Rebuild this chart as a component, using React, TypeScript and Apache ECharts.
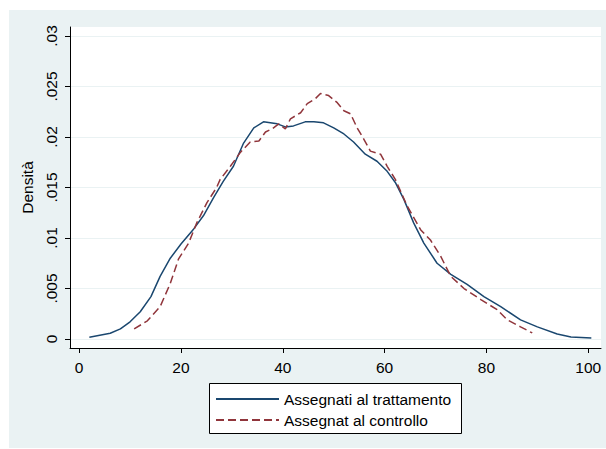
import React, { useEffect, useRef } from "react";
import * as echarts from "echarts";

const treatedX = [2.0, 6.1, 8.1, 10.0, 12.0, 14.1, 15.9, 17.9, 20.0, 22.5, 24.4, 26.4, 28.3, 30.3, 32.3, 34.3, 36.2, 38.9, 40.5, 42.1, 44.4, 46.1, 48.0, 50.0, 52.0, 53.9, 56.2, 58.5, 60.5, 62.1, 63.8, 65.7, 67.7, 70.3, 73.0, 76.2, 79.5, 82.8, 86.7, 90.0, 93.9, 96.6, 100.6];
const treatedY = [0.00017, 0.00057, 0.001, 0.0017, 0.0027, 0.0042, 0.0062, 0.008, 0.0094, 0.0109, 0.0122, 0.014, 0.0156, 0.0171, 0.0194, 0.0209, 0.0215, 0.0213, 0.021, 0.0211, 0.0215, 0.0215, 0.0214, 0.0209, 0.0203, 0.0195, 0.0183, 0.0176, 0.0166, 0.0155, 0.0138, 0.0115, 0.0095, 0.0075, 0.0064, 0.0054, 0.0042, 0.0032, 0.0019, 0.0012, 0.0005, 0.0002, 0.0001];

const controlX = [10.8, 13.4, 15.9, 17.9, 19.5, 21.5, 23.1, 25.1, 27.0, 27.7, 29.7, 31.7, 33.6, 35.3, 36.6, 37.9, 39.2, 40.5, 41.5, 43.5, 44.8, 46.4, 47.4, 49.0, 50.7, 52.0, 53.3, 54.6, 55.9, 57.2, 59.2, 60.5, 62.1, 64.4, 67.1, 69.0, 71.0, 73.0, 75.6, 78.9, 82.1, 84.1, 86.7, 89.0];
const controlY = [0.001, 0.0018, 0.0032, 0.0055, 0.0079, 0.0095, 0.0115, 0.0135, 0.015, 0.0158, 0.0171, 0.0185, 0.0195, 0.0196, 0.0205, 0.0208, 0.0213, 0.0208, 0.0218, 0.0224, 0.0233, 0.0238, 0.0243, 0.0241, 0.0234, 0.0226, 0.0223, 0.0209, 0.0198, 0.0186, 0.0183, 0.0171, 0.0158, 0.0132, 0.0108, 0.0098, 0.0082, 0.0062, 0.005, 0.0039, 0.0029, 0.0019, 0.0012, 0.0006];

const xTicks = [0, 20, 40, 60, 80, 100];
const yTicks = [0, 0.005, 0.01, 0.015, 0.02, 0.025, 0.03];
const yTickLabels = ["0", ".005", ".01", ".015", ".02", ".025", ".03"];
const seriesNames = ["Assegnati al trattamento", "Assegnat al controllo"];
const yAxisTitle = "Densità";

const FONT = "Liberation Sans, Arial, Helvetica, sans-serif";
const FS = 15.5;

export default function App() {
  const ref = useRef<HTMLDivElement>(null);
  useEffect(() => {
    if (!ref.current) return;
    const chart = echarts.init(ref.current, null, { renderer: "svg" });
    chart.setOption({
      animation: false,
      textStyle: { fontFamily: FONT },
      graphic: [
        { type: "rect", z: -10, shape: { x: 9, y: 10, width: 597, height: 438 }, style: { fill: "#EAF2F3" }, silent: true },
        { type: "rect", z: 1, shape: { x: 209.5, y: 383.5, width: 252, height: 50 }, style: { fill: "#ffffff", stroke: "#000000", lineWidth: 1 }, silent: true },
      ],
      grid: { left: 70, top: 27, right: 5, bottom: 101, show: true, backgroundColor: "#ffffff", borderWidth: 0 },
      legend: {
        z: 5,
        left: 215,
        top: 391,
        orient: "vertical",
        itemWidth: 63,
        itemHeight: 14,
        itemGap: 5,
        padding: 0,
        itemStyle: { opacity: 0, borderWidth: 0 },
        textStyle: { fontSize: FS, color: "#000", fontFamily: FONT },
        data: seriesNames,
      },
      xAxis: {
        type: "value",
        min: -1.8,
        max: 102.5,
        axisLine: { show: true, onZero: false, lineStyle: { color: "#000", width: 1 } },
        axisTick: { show: true, customValues: xTicks, length: 5, lineStyle: { color: "#000" } },
        axisLabel: { customValues: xTicks, fontSize: FS, color: "#000", margin: 11, fontFamily: FONT },
        splitLine: { show: false },
      },
      yAxis: {
        type: "value",
        min: -0.00089,
        max: 0.03089,
        name: yAxisTitle,
        nameLocation: "middle",
        nameGap: 27,
        nameTextStyle: { fontSize: FS, color: "#000", fontFamily: FONT },
        axisLine: { show: true, onZero: false, lineStyle: { color: "#000", width: 1 } },
        axisTick: { show: true, customValues: yTicks, length: 5, lineStyle: { color: "#000" } },
        axisLabel: {
          customValues: yTicks,
          rotate: 90,
          fontSize: FS,
          color: "#000",
          margin: 11,
          fontFamily: FONT,
          formatter: (v: number) => {
            const i = yTicks.findIndex((t) => Math.abs(t - v) < 1e-9);
            return i >= 0 ? yTickLabels[i] : "";
          },
        },
        splitLine: { show: true, lineStyle: { color: "#EAF2F3", width: 1 } },
      },
      series: [
        {
          name: seriesNames[0],
          type: "line",
          symbol: "none",
          smooth: false,
          data: treatedX.map((x, i) => [x, treatedY[i]]),
          lineStyle: { color: "#1A476F", width: 1.5 },
          itemStyle: { color: "#1A476F" },
        },
        {
          name: seriesNames[1],
          type: "line",
          symbol: "none",
          smooth: false,
          data: controlX.map((x, i) => [x, controlY[i]]),
          lineStyle: { color: "#90353B", width: 1.5, type: [8, 4] },
          itemStyle: { color: "#90353B" },
        },
      ],
    });
    return () => chart.dispose();
  }, []);
  return <div ref={ref} style={{ position: "absolute", left: 0, top: 0, width: 606, height: 449 }} />;
}
